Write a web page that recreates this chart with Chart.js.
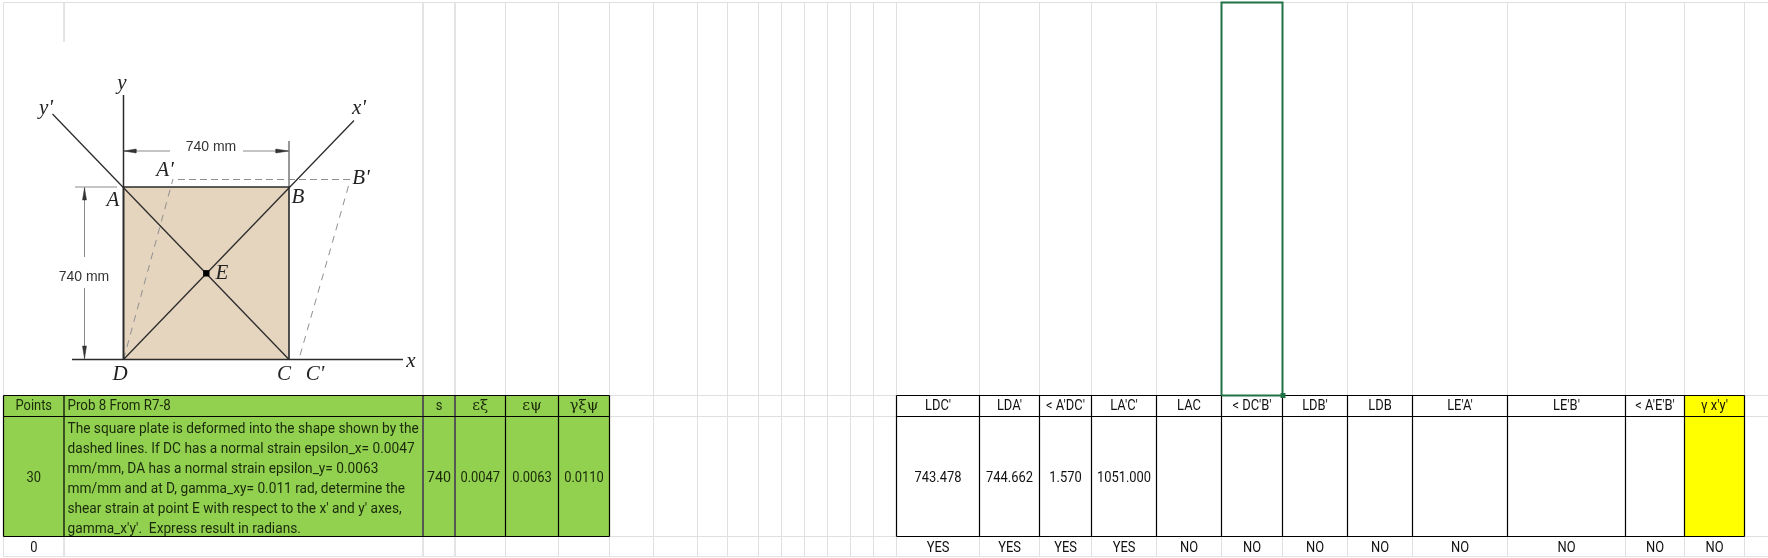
<!DOCTYPE html>
<html>
<head>
<meta charset="utf-8">
<title>Prob 8 From R7-8</title>
<script src="https://cdn.jsdelivr.net/npm/chart.js@4/dist/chart.umd.min.js"></script>
<style>
  html, body { margin: 0; padding: 0; background: #fff; overflow: hidden; }
  canvas { display: block; }
</style>
</head>
<body>
<canvas id="sheet" width="1768" height="558"></canvas>
<script>
// sheet geometry, in picture pixels
const columnEdges = [3.5, 64, 423, 455, 505.5, 558.5, 609.5, 653.5, 697.5, 727.5, 758.5, 781.5, 804.5, 827.5, 850.5, 873.5, 896.5, 979.5, 1039.5, 1091.5, 1156.5, 1221.5, 1282.5, 1347.5, 1412.5, 1507.5, 1625.5, 1684.5, 1744.5];
const rowEdges = [2.5, 395.5, 416.5, 536.5, 556.5];

// green table (left)
const leftEdges = [3.5, 64, 423, 455, 505.5, 558.5, 609.5];
const leftHeaders = ['Points', 'Prob 8 From R7-8', 's', 'εξ', 'εψ', 'γξψ'];
const leftValues = ['30', '', '740', '0.0047', '0.0063', '0.0110'];
const problemLines = [
  'The square plate is deformed into the shape shown by the',
  'dashed lines. If DC has a normal strain epsilon_x= 0.0047',
  'mm/mm, DA has a normal strain epsilon_y= 0.0063',
  'mm/mm and at D, gamma_xy= 0.011 rad, determine the',
  "shear strain at point E with respect to the x' and y' axes,",
  "gamma_x'y'.  Express result in radians."
];
const pointsTotal = '0';

// answer table (right)
const rightEdges = [896.5, 979.5, 1039.5, 1091.5, 1156.5, 1221.5, 1282.5, 1347.5, 1412.5, 1507.5, 1625.5, 1684.5, 1744.5];
const rightHeaders = ["LDC'", "LDA'", "< A'DC'", "LA'C'", 'LAC', "< DC'B'", "LDB'", 'LDB', "LE'A'", "LE'B'", "< A'E'B'", "γ x'y'"];
const rightValues = ['743.478', '744.662', '1.570', '1051.000', '', '', '', '', '', '', '', ''];
const rightChecks = ['YES', 'YES', 'YES', 'YES', 'NO', 'NO', 'NO', 'NO', 'NO', 'NO', 'NO', 'NO'];

// figure
const plate = [[123.5, 187], [289, 187], [289, 359.5], [123.5, 359.5]];
const plateOutline = [[123.5, 359.5], [123.5, 187], [289, 187], [289, 359.5]];
const axisX = [[72, 359.5], [403, 359.5]];
const axisY = [[123.5, 359.5], [123.5, 95]];
const axisXPrime = [[123.5, 359.5], [354, 120.5]];
const axisYPrime = [[52.5, 114], [289, 359.5]];
const deformedLeft = [[123.5, 359.5], [173, 179]];
const deformedTop = [[178, 179.5], [350, 179.5]];
const deformedRight = [[348.5, 186], [299, 359]];
const dimLines = [
  [[289, 141], [289, 187]],
  [[123.5, 151], [170, 151]],
  [[243, 151], [289, 151]],
  [[75, 187], [117, 187]],
  [[84.5, 187], [84.5, 257]],
  [[84.5, 288], [84.5, 359]]
];
const dimArrows = [
  [[124, 151], [136, 149], [136, 153]],
  [[288.5, 151], [276, 149], [276, 153]],
  [[84.5, 188], [82.5, 200], [86.5, 200]],
  [[84.5, 358.5], [82.5, 346], [86.5, 346]]
];
const pointE = [[206.3, 273.3]];
const figureLabels = [
  ['y', 122, 83], ["y'", 46, 108], ["x'", 359, 108], ["A'", 165, 170], ["B'", 361, 178],
  ['A', 113, 200], ['B', 298, 197], ['E', 222, 273], ['D', 120, 374], ['C', 284, 374], ["C'", 315, 374], ['x', 411, 361]
];
const dimLabels = [['740 mm', 211, 147], ['740 mm', 84, 277]];
const selectedCell = [[1221.5, 395.5], [1221.5, 2.5], [1282.5, 2.5], [1282.5, 395.5], [1221.5, 395.5]];

const GRID = '#e0e0e0', BLACK = '#000000', GREEN = '#92d050', YELLOW = '#ffff00', PLATE = '#e5d5bf', INK = '#2b2b2b', DASH = '#8f8f8f', DIM = '#8a8a8a', SELECT = '#217346';
const CELL_FONT = 'Roboto, "Liberation Sans", sans-serif';
const SQUEEZE = 0.86;
const BODY_SQUEEZE = 0.913;

const toXY = (pts) => pts.map(([x, y]) => ({ x, y }));
function line(pts, color, width, extra) {
  return Object.assign({ data: toXY(pts), showLine: true, borderColor: color, borderWidth: width, pointRadius: 0, fill: false, tension: 0 }, extra);
}

const layers = [];
// pale sheet gridlines, the figure picture hides them above the green table
columnEdges.forEach((x) => {
  if (x > 420 || x === 3.5) layers.push(line([[x, rowEdges[0]], [x, rowEdges[4]]], GRID, 1));
  else layers.push(line([[x, rowEdges[3]], [x, rowEdges[4]]], GRID, 1));
});
layers.push(line([[64, rowEdges[0]], [64, 42]], GRID, 1));
rowEdges.forEach((y) => layers.push(line([[3.5, y], [1768, y]], GRID, 1)));
// figure
layers.push(line(deformedLeft, DASH, 1, { borderDash: [7, 6] }));
layers.push(line(deformedTop, DASH, 1, { borderDash: [7, 4] }));
layers.push(line(deformedRight, DASH, 1, { borderDash: [7, 6] }));
dimLines.forEach((d) => layers.push(line(d, DIM, 1)));
dimArrows.forEach((d) => layers.push(line(d.concat([d[0]]), '#333333', 0.5, { fill: 'shape', backgroundColor: '#333333' })));
layers.push(line(axisX, INK, 1.5));
layers.push(line(axisY, INK, 1.5));
layers.push(line(axisXPrime, INK, 1.3));
layers.push(line(axisYPrime, INK, 1.3));
layers.push(line(plateOutline, INK, 1.6));
layers.push({ data: toXY(pointE), pointStyle: 'rect', pointRadius: 4.5, pointBackgroundColor: '#000', pointBorderWidth: 0, showLine: false });
// table borders
[leftEdges, rightEdges].forEach((edges) => {
  edges.forEach((x) => layers.push(line([[x, rowEdges[1]], [x, rowEdges[3]]], BLACK, 1.2)));
});
[rowEdges[1], rowEdges[2], rowEdges[3]].forEach((y) => {
  layers.push(line([[leftEdges[0], y], [leftEdges[leftEdges.length - 1], y]], BLACK, 1.2));
  layers.push(line([[rightEdges[0], y], [rightEdges[rightEdges.length - 1], y]], BLACK, 1.2));
});
// selected cell
layers.push(line(selectedCell, SELECT, 2));
layers.push({ data: [{ x: 1283, y: 395.5 }], pointStyle: 'rect', pointRadius: 3.5, pointBackgroundColor: SELECT, pointBorderWidth: 0, showLine: false });
// chart.js paints the first dataset last
const datasets = layers.slice().reverse();

const sheetPlugin = {
  id: 'sheet',
  beforeDatasetsDraw(chart) {
    const { ctx, scales: { x: sx, y: sy } } = chart;
    const rect = (x0, y0, x1, y1, color) => {
      ctx.fillStyle = color;
      ctx.fillRect(sx.getPixelForValue(x0), sy.getPixelForValue(y0), sx.getPixelForValue(x1) - sx.getPixelForValue(x0), sy.getPixelForValue(y1) - sy.getPixelForValue(y0));
    };
    ctx.save();
    rect(leftEdges[0], rowEdges[1], leftEdges[leftEdges.length - 1], rowEdges[3], GREEN);
    rect(rightEdges[11], rowEdges[1], rightEdges[12], rowEdges[3], YELLOW);
    rect(plate[0][0], plate[0][1], plate[2][0], plate[2][1], PLATE);
    ctx.restore();
  },
  afterDatasetsDraw(chart) {
    const { ctx, scales: { x: sx, y: sy } } = chart;
    const text = (s, x, y, font, color, align, squeeze) => {
      ctx.save();
      ctx.font = font;
      ctx.fillStyle = color;
      ctx.textAlign = align || 'center';
      ctx.textBaseline = 'middle';
      ctx.translate(sx.getPixelForValue(x), sy.getPixelForValue(y));
      ctx.scale(squeeze || 1, 1);
      ctx.fillText(s, 0, 0);
      ctx.restore();
    };
    const cellFont = '15px ' + CELL_FONT;
    const textColor = '#1a2a0a';
    leftHeaders.forEach((h, i) => {
      const cx = (leftEdges[i] + leftEdges[i + 1]) / 2;
      if (i === 1) text(h, leftEdges[1] + 3.5, 406, cellFont, textColor, 'left', 0.89);
      else if (i > 2) text(h, cx, 406, '15px "DejaVu Serif", serif', textColor);
      else text(h, cx, 406, cellFont, textColor, 'center', SQUEEZE);
    });
    leftValues.forEach((v, i) => {
      if (v) text(v, (leftEdges[i] + leftEdges[i + 1]) / 2, 478, cellFont, textColor, 'center', i === 2 ? 0.95 : SQUEEZE);
    });
    problemLines.forEach((l, i) => text(l, leftEdges[1] + 3.5, 429 + i * 20.1, cellFont, textColor, 'left', BODY_SQUEEZE));
    text(pointsTotal, (leftEdges[0] + leftEdges[1]) / 2, 548, cellFont, '#111', 'center', SQUEEZE);
    rightHeaders.forEach((h, i) => text(h, (rightEdges[i] + rightEdges[i + 1]) / 2, 406, cellFont, '#111', 'center', SQUEEZE));
    rightValues.forEach((v, i) => {
      if (v) text(v, (rightEdges[i] + rightEdges[i + 1]) / 2, 478, cellFont, '#111', 'center', SQUEEZE);
    });
    rightChecks.forEach((v, i) => text(v, (rightEdges[i] + rightEdges[i + 1]) / 2, 548, cellFont, '#111', 'center', SQUEEZE));
    figureLabels.forEach(([s, x, y]) => text(s, x, y, 'italic 21px "Liberation Serif", serif', '#222'));
    dimLabels.forEach(([s, x, y]) => text(s, x, y, '14px "Liberation Sans", sans-serif', '#333'));
  }
};

new Chart(document.getElementById('sheet').getContext('2d'), {
  type: 'scatter',
  data: { datasets },
  plugins: [sheetPlugin],
  options: {
    responsive: false,
    animation: false,
    devicePixelRatio: 1,
    layout: { padding: 0, autoPadding: false },
    plugins: { legend: { display: false }, tooltip: { enabled: false } },
    scales: {
      x: { type: 'linear', min: 0, max: 1768, display: false },
      y: { type: 'linear', min: 0, max: 558, reverse: true, display: false }
    }
  }
});
</script>
</body>
</html>
